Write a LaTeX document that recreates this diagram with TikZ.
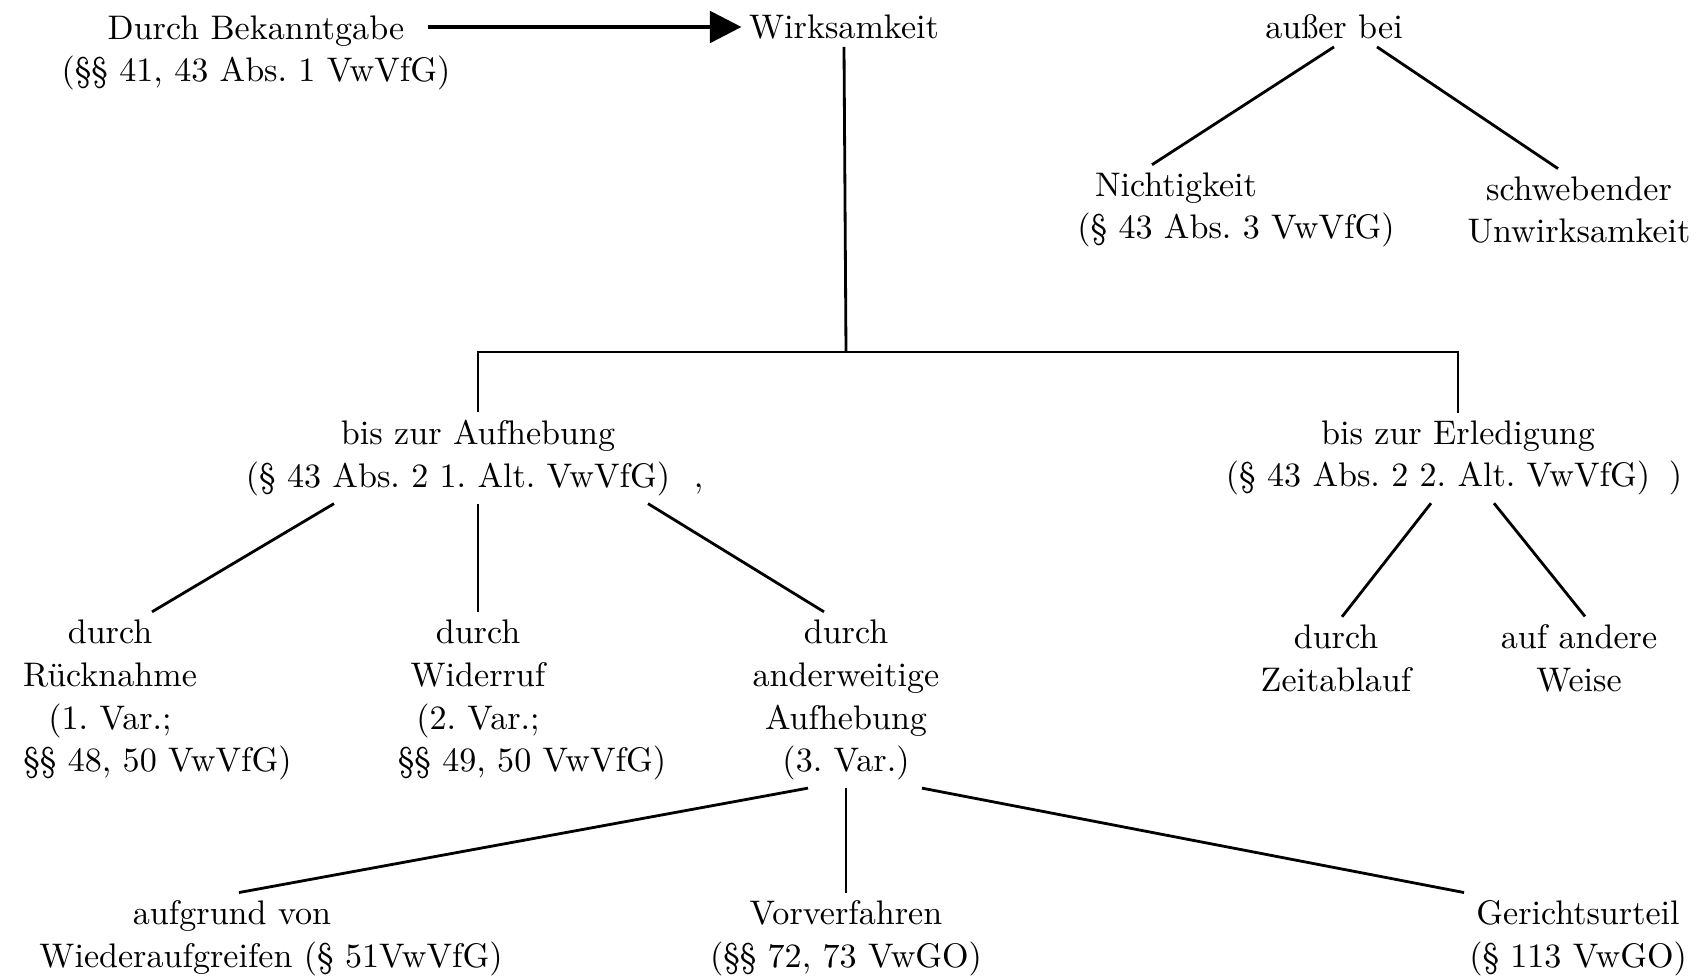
\documentclass[tikz,border=0pt]{standalone}
\usepackage{tikz}
\usetikzlibrary{
  arrows.meta
}

\begin{document}
\frenchspacing
\begin{tikzpicture}[
            txtbox/.style={align=center, inner sep=2pt, text=black, font=\fontsize{9.7}{12.2}\selectfont},
            linkline/.style={draw=black, line width=0.8pt},
            arrline/.style={draw=black, line width=1.1pt, -{Triangle[length=9pt, width=9pt]}}]
            \useasboundingbox (0,0) rectangle (17,-9.77);
            \node [txtbox] (bekannt) at (2.56,-0.53) {Durch Bekanntgabe\\(\S\S~41, 43 Abs.~1 VwVfG)};
            \node [txtbox] (wirk) at (8.44,-0.27) {Wirksamkeit};
            \node [txtbox] (ausser) at (13.34,-0.27) {außer bei};
            \node [txtbox] (nicht) at (11.76,-2.10) {Nichtigkeit\\\hspace*{1.2cm}(\S~43 Abs.~3 VwVfG)};
            \node [txtbox] (schweb) at (15.79,-2.10) {schwebender\\Unwirksamkeit};
            \node [txtbox] (aufh) at (4.78,-4.58) {bis zur Aufhebung\\(\S~43 Abs.~2 1. Alt. VwVfG)\rlap{\hspace{0.7em},}\hspace*{0.4cm}};
            \node [txtbox] (erled) at (14.58,-4.58) {bis zur Erledigung\\(\S~43 Abs.~2 2. Alt. VwVfG)\rlap{\hspace{0.55em})}\hspace*{0.4cm}};
            \node [txtbox] (ruck) at (1.10,-7.00) {durch\\Rücknahme\\(1. Var.;\\\hspace*{0.95cm}\S\S~48, 50 VwVfG)};
            \node [txtbox] (wider) at (4.78,-7.00) {durch\\Widerruf\\(2. Var.;\\\hspace*{1.08cm}\S\S~49, 50 VwVfG)};
            \node [txtbox] (andw) at (8.46,-7.00) {durch\\anderweitige\\Aufhebung\\(3. Var.)};
            \node [txtbox] (zeit) at (13.36,-6.58) {durch\\Zeitablauf};
            \node [txtbox] (andere) at (15.79,-6.58) {auf andere\\Weise};
            \node [txtbox] (wieder) at (2.71,-9.38) {aufgrund von\hspace*{0.78cm}\\Wiederaufgreifen (\S~51VwVfG)};
            \node [txtbox] (vorv) at (8.46,-9.38) {Vorverfahren\\(\S\S~72, 73 VwGO)};
            \node [txtbox] (gericht) at (15.78,-9.38) {Gerichtsurteil\\(\S~113 VwGO)};
            \coordinate (bar) at (8.46,-3.52);
            \draw [arrline, shorten <=-0.3cm] (bekannt.east |- wirk) -- (wirk);
            \draw [linkline] (wirk.south) -- (bar);
            \draw [linkline] (aufh.north) |- (bar) -| (erled.north);
            \draw [linkline] (ausser.south) -- ([xshift=-0.24cm]nicht.north);
            \draw [linkline] ([xshift=0.43cm]ausser.south) -- ([xshift=-0.21cm]schweb.north);
            \draw [linkline] ([xshift=-1.44cm]aufh.south) -- ([xshift=0.42cm]ruck.north);
            \draw [linkline] (aufh.south) -- (wider.north);
            \draw [linkline] ([xshift=1.70cm]aufh.south) -- ([xshift=-0.22cm]andw.north);
            \draw [linkline] ([xshift=-0.27cm]erled.south) -- ([xshift=0.06cm]zeit.north);
            \draw [linkline] ([xshift=0.36cm]erled.south) -- ([xshift=0.06cm]andere.north);
            \draw [linkline] ([xshift=-0.38cm]andw.south) -- ([xshift=-0.32cm]wieder.north);
            \draw [linkline] (andw.south) -- (vorv.north);
            \draw [linkline] ([xshift=0.76cm]andw.south) -- ([xshift=-1.14cm]gericht.north);
        \end{tikzpicture}
\end{document}
